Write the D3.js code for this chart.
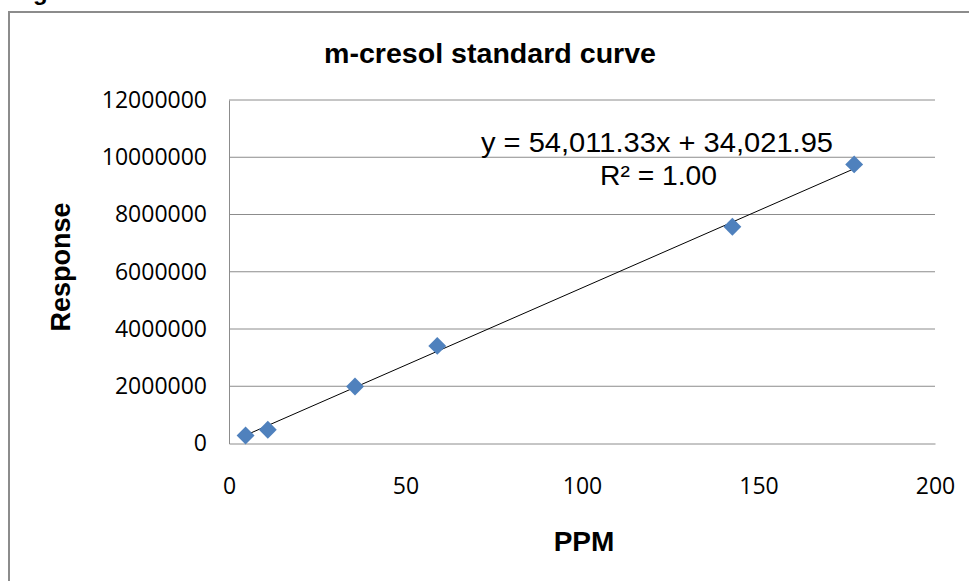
<!DOCTYPE html>
<html>
<head>
<meta charset="utf-8">
<script src="https://cdn.jsdelivr.net/npm/d3@7"></script>
<style>
  body { margin: 0; background: #fff; }
</style>
</head>
<body>
<div id="chart"></div>
<script>
// m-cresol standard curve data
const ppm = [4.7, 11, 35.7, 59, 142.6, 177.1];
const response = [280000, 480000, 1990000, 3410000, 7570000, 9750000];
const xTicks = [0, 50, 100, 150, 200];
const yTicks = [0, 2000000, 4000000, 6000000, 8000000, 10000000, 12000000];
const slope = 54011.33;
const intercept = 34021.95;

const width = 969, height = 581;
const margin = { top: 100, right: 34, bottom: 137.5, left: 229 };

const svg = d3.select('#chart')
  .append('svg')
  .attr('width', width)
  .attr('height', height);

// Outer frame (only top and left edges are visible)
svg.append('path')
  .attr('d', `M9,${height} L9,12 L${width},12`)
  .attr('fill', 'none')
  .attr('stroke', '#8c8c8c')
  .attr('stroke-width', 2);

// Cut-off caption above the frame
svg.append('text')
  .attr('x', 33)
  .attr('y', 0)
  .style('font-family', 'Liberation Sans, Arial, sans-serif')
  .style('font-weight', 'bold')
  .style('font-size', '24px')
  .text('g');

// Scales
const xScale = d3.scaleLinear()
  .domain([0, 200])
  .range([margin.left, width - margin.right]);

const yScale = d3.scaleLinear()
  .domain([0, 12000000])
  .range([height - margin.bottom, margin.top]);

// Gridlines
svg.append('g')
  .selectAll('line')
  .data(yTicks.slice(1))
  .join('line')
  .attr('x1', xScale(0))
  .attr('x2', xScale(200))
  .attr('y1', d => yScale(d))
  .attr('y2', d => yScale(d))
  .attr('stroke', '#8c8c8c')
  .attr('stroke-width', 1);

// Axes
const yAxis = svg.append('g')
  .attr('transform', `translate(${xScale(0)},0)`)
  .call(d3.axisLeft(yScale).tickValues(yTicks).tickSize(0).tickPadding(22).tickFormat(d3.format('d')));

const xAxis = svg.append('g')
  .attr('transform', `translate(0,${yScale(0)})`)
  .call(d3.axisBottom(xScale).tickValues(xTicks).tickSize(0).tickPadding(34).tickFormat(d3.format('d')));

[xAxis, yAxis].forEach(ax => {
  ax.select('.domain').attr('stroke', '#8c8c8c').attr('stroke-width', 1);
  ax.selectAll('text')
    .style('font-family', 'Open Sans, sans-serif')
    .style('font-size', '23px')
    .attr('fill', '#000');
});

// Title
svg.append('text')
  .attr('x', 490)
  .attr('y', 63)
  .attr('text-anchor', 'middle')
  .attr('textLength', 332)
  .attr('lengthAdjust', 'spacingAndGlyphs')
  .style('font-family', 'Liberation Sans, Arial, sans-serif')
  .style('font-weight', 'bold')
  .style('font-size', '27px')
  .text('m-cresol standard curve');

// Axis titles
svg.append('text')
  .attr('x', 584)
  .attr('y', 551)
  .attr('text-anchor', 'middle')
  .style('font-family', 'Liberation Sans, Arial, sans-serif')
  .style('font-weight', 'bold')
  .style('font-size', '28px')
  .text('PPM');

svg.append('text')
  .attr('transform', 'translate(70,267) rotate(-90)')
  .attr('text-anchor', 'middle')
  .style('font-family', 'Liberation Sans, Arial, sans-serif')
  .style('font-weight', 'bold')
  .style('font-size', '27px')
  .text('Response');

// Linear trendline
const xMin = d3.min(ppm), xMax = d3.max(ppm);
svg.append('line')
  .attr('x1', xScale(xMin))
  .attr('y1', yScale(slope * xMin + intercept))
  .attr('x2', xScale(xMax))
  .attr('y2', yScale(slope * xMax + intercept))
  .attr('stroke', '#000')
  .attr('stroke-width', 1);

// Points (diamonds)
const points = ppm.map((x, i) => ({ x, y: response[i] }));
svg.append('g')
  .selectAll('path')
  .data(points)
  .join('path')
  .attr('d', d3.symbol().type(d3.symbolSquare).size(160))
  .attr('transform', d => `translate(${xScale(d.x)},${yScale(d.y)}) rotate(45)`)
  .attr('fill', '#4f81bd');

// Equation labels
svg.append('text')
  .attr('x', 481)
  .attr('y', 152)
  .attr('textLength', 352)
  .attr('lengthAdjust', 'spacingAndGlyphs')
  .style('font-family', 'Liberation Sans, Arial, sans-serif')
  .style('font-size', '27px')
  .text(`y = ${d3.format(',.2f')(slope)}x + ${d3.format(',.2f')(intercept)}`);

svg.append('text')
  .attr('x', 600)
  .attr('y', 185)
  .attr('textLength', 117)
  .attr('lengthAdjust', 'spacingAndGlyphs')
  .style('font-family', 'Liberation Sans, Arial, sans-serif')
  .style('font-size', '27px')
  .text('R² = 1.00');
</script>
</body>
</html>
